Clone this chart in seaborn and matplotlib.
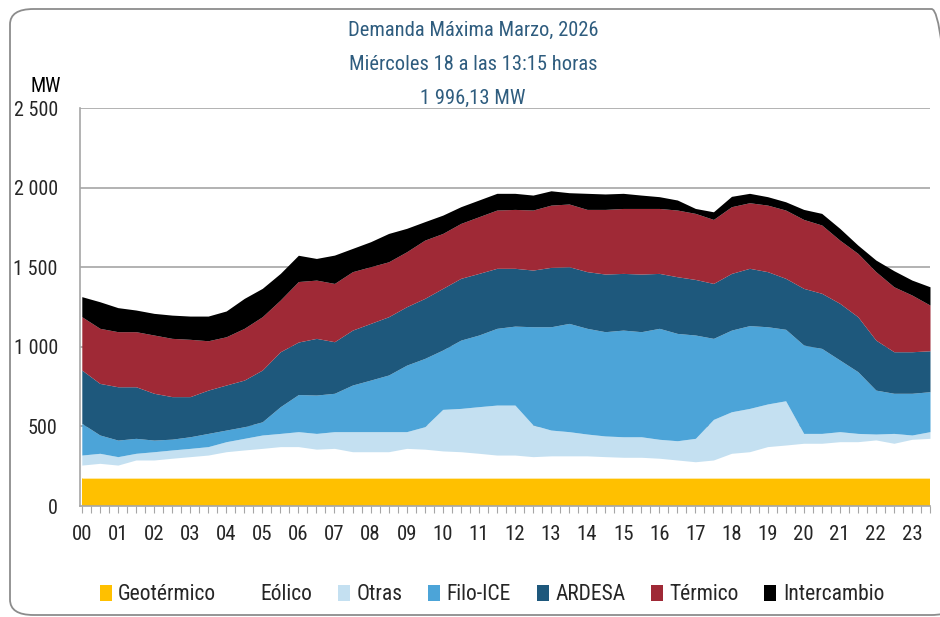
import numpy as np
import pandas as pd
import matplotlib
matplotlib.use("Agg")
import matplotlib.pyplot as plt
from matplotlib import font_manager
from matplotlib.patches import Patch, FancyBboxPatch
import seaborn as sns

# ---------------- data (MW, every 30 minutes) ----------------
hours = [0.0, 0.5, 1.0, 1.5, 2.0, 2.5, 3.0, 3.5, 4.0, 4.5, 5.0, 5.5,
         6.0, 6.5, 7.0, 7.5, 8.0, 8.5, 9.0, 9.5, 10.0, 10.5, 11.0, 11.5,
         12.0, 12.5, 13.0, 13.5, 14.0, 14.5, 15.0, 15.5, 16.0, 16.5, 17.0, 17.5,
         18.0, 18.5, 19.0, 19.5, 20.0, 20.5, 21.0, 21.5, 22.0, 22.5, 23.0, 23.5]

geotermico = [175, 175, 175, 175, 175, 175, 175, 175, 175, 175, 175, 175,
              175, 175, 175, 175, 175, 175, 175, 175, 175, 175, 175, 175,
              175, 175, 175, 175, 175, 175, 175, 175, 175, 175, 175, 175,
              175, 175, 175, 175, 175, 175, 175, 175, 175, 175, 175, 175]
eolico = [82, 93, 82, 114, 114, 125, 135, 145, 166, 177, 187, 198,
          198, 182, 187, 166, 166, 166, 187, 182, 171, 166, 156, 145,
          145, 135, 140, 140, 140, 135, 131, 131, 125, 114, 103, 114,
          156, 166, 198, 208, 219, 219, 229, 229, 240, 219, 244, 250]
otras = [63, 63, 53, 42, 52, 52, 52, 53, 63, 73, 84, 83,
         94, 99, 105, 126, 126, 126, 105, 141, 261, 272, 293, 314,
         314, 199, 162, 152, 137, 130, 129, 129, 119, 121, 147, 255,
         261, 272, 268, 278, 62, 62, 63, 52, 37, 62, 27, 42]
filo_ice = [199, 115, 104, 94, 73, 68, 73, 83, 73, 73, 83, 168,
            233, 241, 241, 293, 324, 356, 418, 429, 373, 429, 450, 482,
            496, 617, 649, 680, 664, 655, 670, 660, 697, 674, 649, 509,
            513, 520, 485, 449, 555, 534, 450, 388, 276, 252, 262, 251]
ardesa = [335, 324, 335, 324, 294, 267, 252, 272, 283, 293, 325, 345,
          330, 356, 324, 345, 356, 366, 367, 377, 387, 388, 387, 377,
          363, 356, 373, 356, 356, 362, 356, 362, 345, 356, 349, 345,
          356, 360, 346, 320, 356, 346, 356, 345, 314, 261, 261, 257]
termico = [335, 346, 346, 346, 366, 366, 360, 310, 303, 325, 335, 325,
           380, 366, 366, 367, 356, 345, 345, 366, 345, 345, 356, 366,
           370, 377, 391, 394, 391, 406, 408, 412, 408, 419, 415, 402,
           419, 412, 418, 429, 433, 429, 397, 398, 430, 408, 356, 287]
intercambio = [126, 167, 151, 136, 136, 146, 146, 155, 162, 188, 178, 167,
               165, 136, 178, 146, 157, 178, 147, 116, 115, 105, 105, 105,
               101, 94, 90, 71, 101, 97, 95, 84, 74, 63, 31, 48,
               65, 59, 53, 52, 63, 73, 74, 52, 73, 101, 94, 115]

series_names = ["Geotérmico", "Eólico", "Otras", "Filo-ICE", "ARDESA", "Térmico", "Intercambio"]
hour_labels = ["00", "01", "02", "03", "04", "05", "06", "07", "08", "09", "10", "11",
               "12", "13", "14", "15", "16", "17", "18", "19", "20", "21", "22", "23"]
y_ticks = [0, 500, 1000, 1500, 2000, 2500]
y_tick_labels = ["0", "500", "1 000", "1 500", "2 000", "2 500"]
title_lines = ["Demanda Máxima Marzo, 2026", "Miércoles 18 a las 13:15 horas", "1 996,13 MW"]

df = pd.DataFrame({"hora": hours, "Geotérmico": geotermico, "Eólico": eolico,
                   "Otras": otras, "Filo-ICE": filo_ice, "ARDESA": ardesa,
                   "Térmico": termico, "Intercambio": intercambio})

# ---------------- style ----------------
sns.set_theme(style="white")
fonts = font_manager.fontManager.ttflist
names = {f.name for f in fonts}
fam = None
for cand in ["Liberation Sans Narrow", "Roboto Condensed", "Open Sans Condensed",
             "Noto Sans Condensed", "DejaVu Sans Condensed"]:
    if cand in names:
        fam = cand
        break
stretch = "normal"
if fam is None:
    cond = [f for f in fonts if str(f.stretch) in ("condensed", "semi-condensed", "extra-condensed")
            and "Mono" not in f.name and "Serif" not in f.name]
    if cond:
        fam = cond[0].name
        stretch = "condensed"
    else:
        fam = "DejaVu Sans"
plt.rcParams["font.family"] = [fam, "DejaVu Sans"]
plt.rcParams["font.stretch"] = stretch

colors = sns.color_palette(["#FFC000", "#FFFFFF", "#C4E0F1", "#4CA4D8",
                            "#1E587C", "#9F2936", "#000000"])

W, H = 940, 617
fig = plt.figure(figsize=(W / 100, H / 100), dpi=100)
ax = fig.add_axes([80 / W, 1 - 506 / H, 850 / W, 398 / H])

for yv in y_ticks[1:]:
    ax.axhline(yv, color="#A6A6A6", lw=1.2, zorder=0)

ax.stackplot(df["hora"], [df[n] for n in series_names], colors=colors,
             labels=series_names, zorder=2, lw=0)

ax.set_xlim(-0.05, 23.5)
ax.set_ylim(0, 2500)
ax.set_yticks(y_ticks)
ax.set_yticklabels(y_tick_labels, fontsize=14.5)
ax.set_xticks(np.arange(len(hour_labels)))
ax.set_xticklabels(hour_labels, fontsize=15)
ax.set_xticks(np.arange(0, 23.51, 0.25), minor=True)
ax.tick_params(axis="x", which="both", direction="out", length=5, width=0.8,
               color="#A6A6A6", pad=9, bottom=True)
ax.tick_params(axis="y", which="both", length=0, pad=16)
ax.grid(False)
sns.despine(ax=ax, top=True, right=True)
for s in ["left", "bottom"]:
    ax.spines[s].set_color("#A6A6A6")
    ax.spines[s].set_linewidth(1.2)

tcol = "#2E5C7E"
for i, t in enumerate(title_lines):
    fig.text(473 / W, 1 - (30 + 34 * i) / H, t, ha="center", va="center",
             fontsize=14.8, color=tcol)
fig.text(46 / W, 1 - 87 / H, "MW", ha="center", va="center", fontsize=14.5, color="#000000")

handles = [Patch(facecolor=c, edgecolor="none") for c in colors]
fig.legend(handles, series_names, loc="center", bbox_to_anchor=(492 / W, 1 - 595 / H),
           ncol=7, frameon=False, fontsize=15.5, handlelength=0.55, handleheight=0.7,
           handletextpad=0.3, columnspacing=1.2)

fig.patches.append(FancyBboxPatch((10 / W, 2 / H), 945 / W, 606 / H,
                                  boxstyle="round,pad=0,rounding_size=0.025",
                                  transform=fig.transFigure, fill=False,
                                  ec="#8C8C8C", lw=1.3))

fig.savefig("out.png", dpi=100)
